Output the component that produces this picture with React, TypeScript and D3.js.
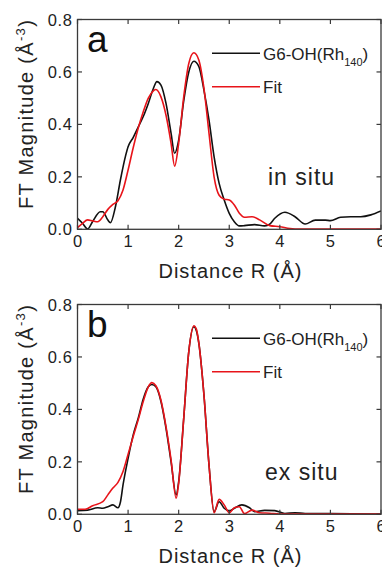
import * as d3 from 'd3'
import React, { useEffect, useRef } from 'react'

// distance R (Å) and FT magnitude (Å^-3)
const inSituExpR = [0, 0.1, 0.2, 0.3, 0.45, 0.5, 0.6, 0.65, 0.75, 0.85, 0.95, 1.0, 1.1, 1.2, 1.3, 1.4, 1.5, 1.57, 1.65, 1.75, 1.85, 1.92, 2.0, 2.1, 2.2, 2.3, 2.4, 2.5, 2.6, 2.7, 2.8, 2.9, 3.0, 3.1, 3.2, 3.3, 3.5, 3.7, 3.8, 3.9, 4.1, 4.3, 4.5, 4.7, 4.9, 5.0, 5.2, 5.4, 5.6, 5.8, 6.0]
const inSituExp = [0.042, 0.023, 0.001, 0.03, 0.067, 0.067, 0.035, 0.025, 0.086, 0.19, 0.28, 0.315, 0.35, 0.39, 0.43, 0.48, 0.537, 0.563, 0.55, 0.48, 0.366, 0.29, 0.34, 0.49, 0.6, 0.641, 0.62, 0.53, 0.416, 0.277, 0.175, 0.112, 0.061, 0.029, 0.013, 0.014, 0.018, 0.013, 0.02, 0.042, 0.065, 0.048, 0.02, 0.035, 0.035, 0.033, 0.046, 0.048, 0.048, 0.055, 0.07]

const inSituFitR = [0, 0.1, 0.2, 0.3, 0.4, 0.5, 0.6, 0.7, 0.8, 0.9, 1.0, 1.1, 1.2, 1.3, 1.4, 1.5, 1.55, 1.65, 1.75, 1.85, 1.92, 2.0, 2.1, 2.2, 2.3, 2.4, 2.5, 2.6, 2.7, 2.8, 2.9, 3.0, 3.1, 3.2, 3.3, 3.45, 3.6, 3.8, 4.0, 4.2, 4.4, 5.0, 6.0]
const inSituFit = [0.006, 0.023, 0.036, 0.032, 0.029, 0.048, 0.076, 0.095, 0.109, 0.15, 0.226, 0.31, 0.385, 0.448, 0.5, 0.528, 0.533, 0.505, 0.435, 0.328, 0.241, 0.328, 0.505, 0.632, 0.673, 0.645, 0.537, 0.366, 0.2, 0.13, 0.115, 0.112, 0.093, 0.061, 0.046, 0.048, 0.036, 0.014, 0.01, 0.003, 0.001, 0.001, 0.001]

const exSituExpR = [0, 0.2, 0.4, 0.5, 0.6, 0.7, 0.8, 0.85, 0.9, 1.0, 1.1, 1.2, 1.3, 1.4, 1.47, 1.55, 1.65, 1.75, 1.85, 1.95, 2.0, 2.1, 2.2, 2.3, 2.35, 2.4, 2.5, 2.6, 2.7, 2.8, 2.9, 3.0, 3.1, 3.25, 3.4, 3.5, 3.7, 3.9, 4.1, 4.3, 4.5, 5.0, 6.0]
const exSituExp = [0.014, 0.016, 0.025, 0.023, 0.029, 0.036, 0.025, 0.048, 0.112, 0.213, 0.302, 0.366, 0.44, 0.486, 0.495, 0.486, 0.43, 0.328, 0.2, 0.074, 0.124, 0.366, 0.62, 0.715, 0.7, 0.651, 0.455, 0.188, 0.01, 0.048, 0.023, 0.013, 0.023, 0.036, 0.025, 0.01, 0.015, 0.014, 0.003, 0.006, 0.003, 0.003, 0.001]

const exSituFitR = [0, 0.15, 0.3, 0.5, 0.6, 0.7, 0.8, 0.9, 1.0, 1.1, 1.2, 1.3, 1.4, 1.47, 1.55, 1.65, 1.75, 1.85, 1.95, 2.0, 2.1, 2.2, 2.3, 2.35, 2.4, 2.5, 2.6, 2.7, 2.8, 2.9, 3.0, 3.1, 3.2, 3.3, 3.45, 3.6, 3.8, 4.0, 6.0]
const exSituFit = [0.019, 0.019, 0.033, 0.048, 0.074, 0.1, 0.122, 0.163, 0.229, 0.296, 0.36, 0.43, 0.486, 0.502, 0.49, 0.435, 0.334, 0.207, 0.061, 0.118, 0.366, 0.62, 0.719, 0.706, 0.651, 0.455, 0.188, 0.006, 0.057, 0.036, 0.006, 0.025, 0.029, 0.003, 0.016, 0.006, 0.004, 0.001, 0.001]

const xTicks = [0, 1, 2, 3, 4, 5, 6]
const yTicks = [0, 0.2, 0.4, 0.6, 0.8]
const seriesNames = ['G6-OH(Rh', 'Fit']

const panels = [
  { letter: 'a', note: 'in situ', noteX: 268, noteY: 185, top: 0, exp: [inSituExpR, inSituExp], fit: [inSituFitR, inSituFit] },
  { letter: 'b', note: 'ex situ', noteX: 265, noteY: 195, top: 285, exp: [exSituExpR, exSituExp], fit: [exSituFitR, exSituFit] }
]

const W = 382
const H = 569
const font = 'Arial, "Liberation Sans", Helvetica, sans-serif'
const frameColor = '#3a3a3a'
const textColor = '#222'

export default function App() {
  const svgRef = useRef<SVGSVGElement>(null)

  useEffect(() => {
    if (!svgRef.current) return
    const svg = d3.select(svgRef.current)
    svg.selectAll('*').remove()

    const x = d3.scaleLinear().domain([0, 6]).range([77.5, 381])
    const y = d3.scaleLinear().domain([0, 0.8]).range([229.3, 19.5])
    const x0 = x.range()[0], x1 = x.range()[1]
    const y0 = y.range()[0], y1 = y.range()[1]

    const line = d3.line<[number, number]>()
      .x(d => x(d[0]))
      .y(d => y(d[1]))
      .curve(d3.curveMonotoneX)

    panels.forEach(p => {
      const g = svg.append('g').attr('transform', `translate(0,${p.top})`)

      const clipId = `clip-${p.letter}`
      g.append('clipPath').attr('id', clipId)
        .append('rect').attr('x', x0).attr('y', y1).attr('width', x1 - x0).attr('height', y0 - y1)

      // curves
      const expPts = p.exp[0].map((r, i) => [r, p.exp[1][i]] as [number, number])
      const fitPts = p.fit[0].map((r, i) => [r, p.fit[1][i]] as [number, number])
      const curves = g.append('g').attr('clip-path', `url(#${clipId})`)
      curves.append('path').attr('d', line(expPts)).attr('fill', 'none')
        .attr('stroke', '#111').attr('stroke-width', 1.6)
      curves.append('path').attr('d', line(fitPts)).attr('fill', 'none')
        .attr('stroke', '#e8141a').attr('stroke-width', 1.6)

      // frame
      g.append('rect').attr('x', x0).attr('y', y1).attr('width', x1 - x0).attr('height', y0 - y1)
        .attr('fill', 'none').attr('stroke', frameColor).attr('stroke-width', 1.3)

      // ticks (inward on all four sides)
      const tl = 4.5
      xTicks.forEach(t => {
        g.append('line').attr('x1', x(t)).attr('x2', x(t)).attr('y1', y0).attr('y2', y0 - tl)
          .attr('stroke', frameColor).attr('stroke-width', 1.2)
        g.append('line').attr('x1', x(t)).attr('x2', x(t)).attr('y1', y1).attr('y2', y1 + tl)
          .attr('stroke', frameColor).attr('stroke-width', 1.2)
        g.append('text').attr('x', x(t)).attr('y', y0 + 18)
          .attr('text-anchor', 'middle').attr('font-family', font).attr('font-size', 16.5)
          .attr('fill', textColor).text(t)
      })
      yTicks.forEach(t => {
        g.append('line').attr('x1', x0).attr('x2', x0 + tl).attr('y1', y(t)).attr('y2', y(t))
          .attr('stroke', frameColor).attr('stroke-width', 1.2)
        g.append('line').attr('x1', x1).attr('x2', x1 - tl).attr('y1', y(t)).attr('y2', y(t))
          .attr('stroke', frameColor).attr('stroke-width', 1.2)
        g.append('text').attr('x', x0 - 5).attr('y', y(t) + 6)
          .attr('text-anchor', 'end').attr('font-family', font).attr('font-size', 16.5)
          .attr('letter-spacing', 0.6).attr('fill', textColor).text(d3.format('.1f')(t))
      })

      // axis titles
      g.append('text').attr('x', 230.5).attr('y', 278)
        .attr('text-anchor', 'middle').attr('font-family', font).attr('font-size', 20)
        .attr('letter-spacing', 1).attr('fill', textColor).text('Distance R (Å)')

      const yl = g.append('text').attr('transform', 'translate(33,114) rotate(-90)')
        .attr('text-anchor', 'middle').attr('font-family', font).attr('font-size', 20)
        .attr('letter-spacing', 1.3).attr('fill', textColor)
      yl.append('tspan').text('FT Magnitude (Å')
      yl.append('tspan').attr('font-size', 13).attr('dy', -8).text('-3')
      yl.append('tspan').attr('dy', 8).text(')')

      // panel letter and condition
      g.append('text').attr('x', 87).attr('y', 52)
        .attr('font-family', font).attr('font-size', 37).attr('fill', '#111').text(p.letter)
      g.append('text').attr('x', p.noteX).attr('y', p.noteY)
        .attr('font-family', font).attr('font-size', 23).attr('letter-spacing', 1)
        .attr('fill', textColor).text(p.note)

      // legend
      const legendRows = [
        { y: 53.3, color: '#111', name: seriesNames[0], sub: true },
        { y: 86.7, color: '#e8141a', name: seriesNames[1], sub: false }
      ]
      legendRows.forEach(r => {
        g.append('line').attr('x1', 212).attr('x2', 260).attr('y1', r.y).attr('y2', r.y)
          .attr('stroke', r.color).attr('stroke-width', 1.6)
        const t = g.append('text').attr('x', 263).attr('y', r.y + 6.5)
          .attr('font-family', font).attr('font-size', 17).attr('fill', textColor)
        t.append('tspan').text(r.name)
        if (r.sub) {
          t.append('tspan').attr('font-size', 11).attr('dy', 6).text('140')
          t.append('tspan').attr('dy', -6).text(')')
        }
      })
    })
  }, [])

  return (
    <svg ref={svgRef} width={W} height={H}
      style={{ position: 'absolute', left: 0, top: 0, background: '#fff' }} />
  )
}
